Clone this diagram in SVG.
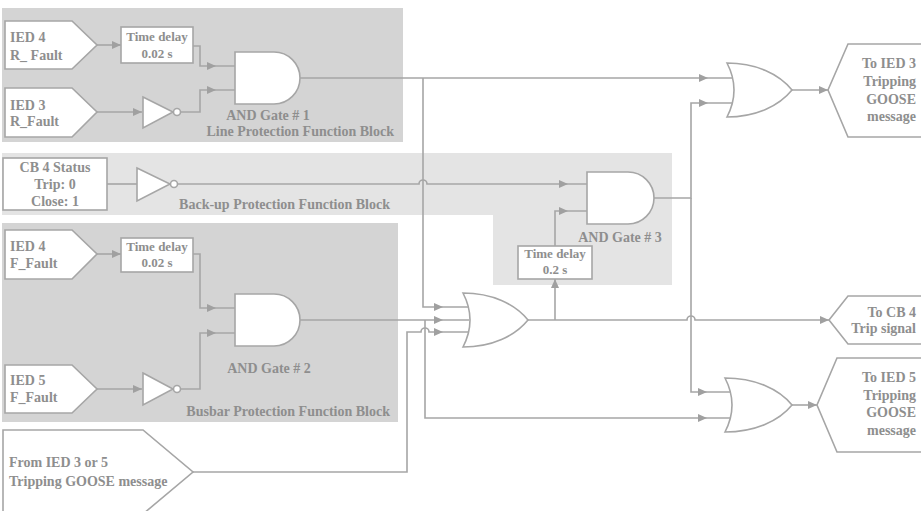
<svg xmlns="http://www.w3.org/2000/svg" width="921" height="511" viewBox="0 0 921 511">
<style>
.bd{fill:#d4d4d4}
.bl{fill:#e4e4e4}
.sh{fill:#fff;stroke:#a6a6a6;stroke-width:1.6}
.w{fill:none;stroke:#a6a6a6;stroke-width:1.6}
text{font-family:"Liberation Serif","Times New Roman",serif;font-weight:bold;font-size:14px;fill:#8e8e8e}
.c{text-anchor:middle}
.e{text-anchor:end}
.s{font-size:13px}
</style>
<defs>
<marker id="a0" markerUnits="userSpaceOnUse" markerWidth="10" markerHeight="10" refX="9" refY="5" orient="auto" overflow="visible"><path d="M0,1 L9,5 L0,9 z" fill="#a0a0a0"/></marker>
<marker id="a20" markerUnits="userSpaceOnUse" markerWidth="10" markerHeight="10" refX="29" refY="5" orient="auto" overflow="visible"><path d="M0,1 L9,5 L0,9 z" fill="#a0a0a0"/></marker>
<marker id="a26" markerUnits="userSpaceOnUse" markerWidth="10" markerHeight="10" refX="35" refY="5" orient="auto" overflow="visible"><path d="M0,1 L9,5 L0,9 z" fill="#a0a0a0"/></marker>
</defs>
<rect width="921" height="511" fill="#fff"/>
<g id="blocks">
<rect class="bd" x="2" y="8" width="401" height="134"/>
<path class="bl" d="M2,153 H672 V285 H493 V215 H2 Z"/>
<rect class="bd" x="2" y="223" width="396" height="199"/>
<text class="e" x="394" y="136">Line Protection Function Block</text>
<text class="e" x="390" y="209">Back-up Protection Function Block</text>
<text class="e" x="390" y="416">Busbar Protection Function Block</text>
</g>
<g id="connectors">
<path class="w" d="M97,45 H121" marker-end="url(#a0)"/>
<path class="w" d="M193,46 H200 V66 H236" marker-end="url(#a20)"/>
<path class="w" d="M97,112 H142" marker-end="url(#a0)"/>
<path class="w" d="M181,112 H200 V90 H236" marker-end="url(#a20)"/>
<path class="w" d="M300,78 H734" marker-end="url(#a26)"/>
<path class="w" d="M423,78 V307 H469" marker-end="url(#a26)"/>
<path class="w" d="M107,184 H137"/>
<path class="w" d="M177,184 H419 A4,4 0 0 1 427,184 H588" marker-end="url(#a20)"/>
<path class="w" d="M97,254 H121" marker-end="url(#a0)"/>
<path class="w" d="M193,254 H200 V308 H236" marker-end="url(#a20)"/>
<path class="w" d="M97,389 H142" marker-end="url(#a0)"/>
<path class="w" d="M181,389 H200 V333 H236" marker-end="url(#a20)"/>
<path class="w" d="M300,320 H469" marker-end="url(#a26)"/>
<path class="w" d="M425,320 V418 H733" marker-end="url(#a26)"/>
<path class="w" d="M193,472 H407 V332 H421 A4,4 0 0 1 429,332 H469" marker-end="url(#a26)"/>
<path class="w" d="M528,320 H687 A4,4 0 0 1 695,320 H829" marker-end="url(#a0)"/>
<path class="w" d="M555,320 V279" marker-end="url(#a0)"/>
<path class="w" d="M555,246 V211 H588" marker-end="url(#a20)"/>
<path class="w" d="M654,198 H691 V103 H734" marker-end="url(#a26)"/>
<path class="w" d="M691,198 V392 H733" marker-end="url(#a26)"/>
<path class="w" d="M792,90 H828" marker-end="url(#a0)"/>
<path class="w" d="M792,405 H817" marker-end="url(#a0)"/>
</g>
<g id="ied4-r-fault">
<path class="sh" d="M5,21 H72 L97,45 L72,69 H5 Z"/>
<text x="10" y="42">IED 4</text>
<text x="10" y="60">R_ Fault</text>
</g>
<g id="ied3-r-fault">
<path class="sh" d="M5,88 H72 L97,112 L72,137 H5 Z"/>
<text x="10" y="110">IED 3</text>
<text x="10" y="126">R_Fault</text>
</g>
<g id="time-delay-1">
<rect class="sh" x="121" y="27" width="72" height="36"/>
<text class="c s" x="157" y="41">Time delay</text>
<text class="c s" x="157" y="58">0.02 s</text>
</g>
<g id="not-1">
<path class="sh" d="M143,97 L173,112 L143,128 Z"/>
<circle class="sh" cx="177" cy="112" r="3.5"/>
</g>
<g id="and-1">
<path class="sh" d="M235,52 H274 A26,26 0 0 1 274,104 H235 Z"/>
<text class="c" x="268" y="120">AND Gate # 1</text>
</g>
<g id="cb4-status">
<rect class="sh" x="3" y="158" width="104" height="52"/>
<text class="c" x="55" y="172">CB 4 Status</text>
<text class="c" x="55" y="189">Trip: 0</text>
<text class="c" x="55" y="206">Close: 1</text>
</g>
<g id="not-cb4">
<path class="sh" d="M137,168 L170,184 L137,201 Z"/>
<circle class="sh" cx="174" cy="184" r="3.5"/>
</g>
<g id="and-3">
<path class="sh" d="M587,172 H628 A26,26 0 0 1 628,224 H587 Z"/>
<text class="c" x="620" y="242">AND Gate # 3</text>
</g>
<g id="time-delay-3">
<rect class="sh" x="518" y="246" width="74" height="33"/>
<text class="c s" x="555" y="258">Time delay</text>
<text class="c s" x="555" y="274">0.2 s</text>
</g>
<g id="ied4-f-fault">
<path class="sh" d="M5,230 H72 L97,254 L72,279 H5 Z"/>
<text x="10" y="251">IED 4</text>
<text x="10" y="268">F_Fault</text>
</g>
<g id="time-delay-2">
<rect class="sh" x="121" y="238" width="72" height="34"/>
<text class="c s" x="157" y="251">Time delay</text>
<text class="c s" x="157" y="267">0.02 s</text>
</g>
<g id="ied5-f-fault">
<path class="sh" d="M5,365 H72 L97,389 L72,413 H5 Z"/>
<text x="10" y="385">IED 5</text>
<text x="10" y="402">F_Fault</text>
</g>
<g id="not-2">
<path class="sh" d="M143,373 L173,389 L143,405 Z"/>
<circle class="sh" cx="177" cy="389" r="3.5"/>
</g>
<g id="and-2">
<path class="sh" d="M235,294 H274 A26,26 0 0 1 274,346 H235 Z"/>
<text class="c" x="269" y="373">AND Gate # 2</text>
</g>
<g id="from-ied">
<path class="sh" d="M3,430 H143 L193,472 L143,514 H3 Z"/>
<text x="9" y="467">From IED 3 or 5</text>
<text x="9" y="486">Tripping GOOSE message</text>
</g>
<g id="or-middle">
<path class="sh" d="M463,293 C492,293 515,304 528,320 C515,336 492,347 463,347 Q477,320 463,293 Z"/>
</g>
<g id="or-top">
<path class="sh" d="M727,63 C756,63 779,74 792,90 C779,106 756,117 727,117 Q741,90 727,63 Z"/>
</g>
<g id="or-bottom">
<path class="sh" d="M725,378 C755,378 779,389 792,405 C779,421 755,432 725,432 Q739,405 725,378 Z"/>
</g>
<g id="to-ied3">
<path class="sh" d="M930,44 H848 L828,90 L848,137 H930 Z"/>
<text class="e" x="916" y="68">To IED 3</text>
<text class="e" x="916" y="86">Tripping</text>
<text class="e" x="916" y="104">GOOSE</text>
<text class="e" x="916" y="121">message</text>
</g>
<g id="to-cb4">
<path class="sh" d="M930,296 H848 L829,320 L848,344 H930 Z"/>
<text class="e" x="916" y="317">To CB 4</text>
<text class="e" x="916" y="333">Trip signal</text>
</g>
<g id="to-ied5">
<path class="sh" d="M930,358 H837 L817,405 L837,452 H930 Z"/>
<text class="e" x="916" y="382">To IED 5</text>
<text class="e" x="916" y="400">Tripping</text>
<text class="e" x="916" y="417">GOOSE</text>
<text class="e" x="916" y="435">message</text>
</g>
</svg>
